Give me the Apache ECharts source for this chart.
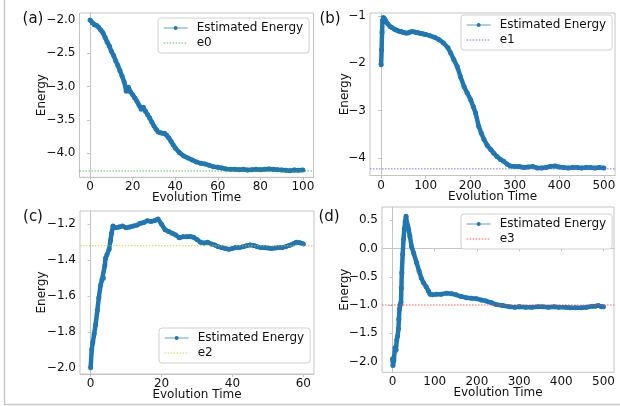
<!DOCTYPE html>
<html><head><meta charset="utf-8">
<script src="https://cdn.jsdelivr.net/npm/echarts@6/dist/echarts.min.js"></script>
<style>html,body{margin:0;padding:0;background:#fff}#c{width:620px;height:406px}</style>
</head><body><div id="c"></div>
<script>
// ---------- data ----------
const tA = [0,1,2,3,4,5,6,7,8,9,10,11,12,13,14,15,16,17,18,19,20,21,22,23,24,25,26,27,28,29,30,31,32,33,34,35,36,37,38,39,40,42,44,46,48,50,52,54,56,58,60,62,64,66,68,70,72,74,76,78,80,82,84,86,88,90,92,94,96,98,100];
const eA = [-2.00,-2.04,-2.07,-2.08,-2.11,-2.15,-2.19,-2.26,-2.33,-2.39,-2.47,-2.53,-2.61,-2.68,-2.76,-2.84,-2.93,-3.07,-3.01,-3.08,-3.12,-3.17,-3.22,-3.28,-3.34,-3.31,-3.37,-3.42,-3.47,-3.53,-3.59,-3.64,-3.68,-3.69,-3.70,-3.70,-3.73,-3.77,-3.82,-3.87,-3.92,-3.99,-4.04,-4.07,-4.10,-4.13,-4.15,-4.16,-4.18,-4.20,-4.21,-4.22,-4.235,-4.24,-4.24,-4.245,-4.24,-4.25,-4.245,-4.24,-4.245,-4.24,-4.235,-4.24,-4.245,-4.25,-4.255,-4.26,-4.25,-4.255,-4.25];

const tB = [0,1,2,3,5,8,10,15,20,25,30,35,40,45,50,55,60,65,70,75,80,85,90,95,100,110,120,130,140,150,156,163,171,178,186,193,201,207,212,219,225,231,238,246,253,260,268,275,283,290,300,310,320,330,340,350,360,370,380,390,400,410,420,430,440,450,460,470,480,490,500];
const eB = [-2.03,-1.72,-1.35,-1.10,-1.03,-1.06,-1.10,-1.17,-1.22,-1.25,-1.28,-1.30,-1.32,-1.33,-1.35,-1.36,-1.36,-1.34,-1.33,-1.34,-1.35,-1.36,-1.37,-1.38,-1.39,-1.42,-1.45,-1.50,-1.57,-1.67,-1.78,-1.92,-2.07,-2.28,-2.49,-2.62,-2.77,-2.92,-3.05,-3.33,-3.48,-3.61,-3.73,-3.82,-3.90,-3.97,-4.03,-4.07,-4.13,-4.17,-4.18,-4.18,-4.20,-4.19,-4.18,-4.21,-4.21,-4.20,-4.18,-4.17,-4.19,-4.20,-4.21,-4.20,-4.20,-4.21,-4.20,-4.20,-4.21,-4.20,-4.21];

const tC = [0,0.3,0.6,1.0,1.4,1.9,2.3,2.8,3.2,3.6,4.0,4.2,4.6,5.2,5.6,5.9,6.3,7,8,9,10,11,12,13,14,15,16,17,18,19,20,21,22,23,24,25,26,27,28,29,30,31,32,33,34,35,36,37,38,39,40,41,42,43,44,45,46,47,48,49,50,51,52,53,54,55,56,57,58,59,60];
const eC = [-2.00,-1.90,-1.86,-1.81,-1.76,-1.68,-1.61,-1.54,-1.51,-1.50,-1.43,-1.39,-1.37,-1.34,-1.29,-1.25,-1.21,-1.22,-1.215,-1.21,-1.22,-1.215,-1.21,-1.205,-1.195,-1.19,-1.18,-1.185,-1.18,-1.17,-1.20,-1.23,-1.24,-1.25,-1.26,-1.275,-1.27,-1.27,-1.268,-1.272,-1.285,-1.30,-1.305,-1.30,-1.31,-1.315,-1.325,-1.33,-1.335,-1.34,-1.335,-1.328,-1.33,-1.325,-1.32,-1.315,-1.318,-1.325,-1.33,-1.33,-1.332,-1.335,-1.333,-1.33,-1.33,-1.325,-1.318,-1.31,-1.30,-1.303,-1.31];

const tD = [0,1,3,6,8,10,12,14,15,16.5,18,20,21,22,24,26,28,30,32,34,36,38,41,45,50,57,63,68,73,80,85,89,95,104,115,128,140,151,163,175,187,199,210,222,235,245,261,277,290,300,316,330,345,355,370,383,394,410,420,433,449,460,473,480,488,495,500];
const eD = [-1.95,-2.07,-1.98,-1.75,-1.80,-1.62,-1.55,-1.42,-1.25,-1.07,-1.00,-0.95,-0.70,-0.43,-0.10,0.16,0.35,0.48,0.57,0.45,0.40,0.34,0.22,0.04,-0.08,-0.25,-0.40,-0.52,-0.60,-0.68,-0.75,-0.81,-0.82,-0.81,-0.81,-0.79,-0.80,-0.82,-0.85,-0.87,-0.88,-0.89,-0.91,-0.93,-0.96,-0.99,-1.01,-1.03,-1.04,-1.03,-1.04,-1.04,-1.03,-1.03,-1.04,-1.03,-1.04,-1.04,-1.05,-1.05,-1.05,-1.04,-1.02,-1.02,-1.01,-1.03,-1.03];

const refNames  = ['e0','e1','e2','e3'];
const refValues = [-4.265,-4.23,-1.32,-1.0];
const panelLabels = ['(a)','(b)','(c)','(d)'];
const seriesName = 'Estimated Energy';

const xTicksA = [0,20,40,60,80,100];
const xTicksB = [0,100,200,300,400,500];
const xTicksC = [0,20,40,60];
const xTicksD = [0,100,200,300,400,500];
const yTicksA = [-4.0,-3.5,-3.0,-2.5,-2.0];
const yTicksB = [-4,-3,-2,-1];
const yTicksC = [-2.0,-1.8,-1.6,-1.4,-1.2];
const yTicksD = [-2.0,-1.5,-1.0,-0.5,0.0,0.5];

// ---------- layout / style ----------
const FONT = 'DejaVu Sans';
const BLUE = '#1f77b4';
const refColors = ['rgba(44,170,44,0.8)','rgba(100,100,255,0.9)','rgba(205,205,40,0.85)','rgba(255,60,60,0.85)'];
const panels = [
  {t:tA,e:eA,xt:xTicksA,yt:yTicksA,dec:1, grid:{left:79.5,top:13,width:234,height:164.3}, x:[-5,105],  y:[-4.36,-1.895], yGap:32, xGap:15, legend:{left:158,top:18}, lab:[33,19]},
  {t:tB,e:eB,xt:xTicksB,yt:yTicksB,dec:0, grid:{left:370,top:13,width:245,height:162.5}, x:[-25,525], y:[-4.37,-0.937], yGap:19, xGap:15, legend:{left:461,top:15}, lab:[330,19]},
  {t:tC,e:eC,xt:xTicksC,yt:yTicksC,dec:1, grid:{left:80,top:211,width:234,height:163}, x:[-3,63],   y:[-2.035,-1.126], yGap:32, xGap:15, legend:{left:159,top:328}, lab:[33,217]},
  {t:tD,e:eD,xt:xTicksD,yt:yTicksD,dec:1, grid:{left:382,top:207,width:232,height:165.3}, x:[-25,525], y:[-2.19,0.734], yGap:31, xGap:15, legend:{left:461,top:214}, lab:[329,217]}
];
const fmt = (v, d) => { if (Math.abs(v) < 1e-9) v = 0; return v.toFixed(d).replace('-', '\u2212'); };

const grid=[], xAxis=[], yAxis=[], series=[], legend=[], graphic=[];
panels.forEach((p, i) => {
  grid.push(Object.assign({show:true, borderColor:'#c4c4c4', borderWidth:1, backgroundColor:'transparent'}, p.grid));
  xAxis.push({
    type:'value', gridIndex:i, min:p.x[0], max:p.x[1],
    axisLine:{show:true, lineStyle:{color:'#c4c4c4'}},
    splitLine:{show:false},
    axisTick:{show:true, customValues:p.xt, length:3, lineStyle:{color:'#c4c4c4'}},
    axisLabel:{customValues:p.xt, margin:4, fontFamily:FONT, fontSize:12, color:'#111', formatter:v=>fmt(v,0)},
    name:'Evolution Time', nameLocation:'middle', nameGap:p.xGap, nameMoveOverlap:false,
    nameTextStyle:{fontFamily:FONT, fontSize:12, color:'#111'}
  });
  yAxis.push({
    type:'value', gridIndex:i, min:p.y[0], max:p.y[1],
    axisLine:{show:true, lineStyle:{color:'#c4c4c4'}},
    splitLine:{show:false},
    axisTick:{show:true, customValues:p.yt, length:3, lineStyle:{color:'#c4c4c4'}},
    axisLabel:{customValues:p.yt, margin:4, fontFamily:FONT, fontSize:12, color:'#111', formatter:v=>fmt(v,p.dec)},
    name:'Energy', nameLocation:'middle', nameGap:p.yGap, nameMoveOverlap:false,
    nameTextStyle:{fontFamily:FONT, fontSize:12, color:'#111'}
  });
  series.push({
    name:seriesName, type:'line', xAxisIndex:i, yAxisIndex:i,
    data:p.t.map((t,k)=>[t,p.e[k]]),
    symbol:'circle', symbolSize:5, showSymbol:true,
    lineStyle:{color:BLUE, width:4.5}, itemStyle:{color:BLUE},
    z:3, animation:false
  });
  // horizontal reference level spanning the axis range
  series.push({
    name:refNames[i], type:'line', xAxisIndex:i, yAxisIndex:i,
    data:[[p.x[0], refValues[i]], [p.x[1], refValues[i]]],
    symbol:'none', lineStyle:{color:refColors[i], width:1, type:[1.5,1.5]}, itemStyle:{color:refColors[i]},
    z:4, animation:false
  });
  legend.push({
    orient:'vertical', left:p.legend.left, top:p.legend.top,
    backgroundColor:'#fff', borderColor:'#d0d0d0', borderWidth:1, borderRadius:3,
    padding:[4,6,4,5], itemGap:3, itemWidth:24, itemHeight:5,
    textStyle:{fontFamily:FONT, fontSize:12, color:'#111', padding:[0,0,0,4]},
    selectedMode:false,
    data:[
      {name:seriesName, itemStyle:{color:BLUE}, lineStyle:{color:'rgba(31,119,180,0.55)', width:1.3}},
      {name:refNames[i], itemStyle:{opacity:0}, lineStyle:{color:refColors[i], width:1, type:[1.5,1.5]}}
    ]
  });
  graphic.push({type:'text', x:p.lab[0], y:p.lab[1],
    style:{text:panelLabels[i], font:'15px "DejaVu Sans"', fill:'#111', align:'center', verticalAlign:'middle'}});
});
graphic.push({type:'polyline', shape:{points:[[4.5,0],[4.5,404.5],[620,404.5]]}, style:{stroke:'#c8c8c8', lineWidth:1.5, fill:null}});

const chart = echarts.init(document.getElementById('c'), null, {renderer:'canvas'});
chart.setOption({animation:false, backgroundColor:'#fff', grid, xAxis, yAxis, series, legend, graphic});
</script></body></html>
